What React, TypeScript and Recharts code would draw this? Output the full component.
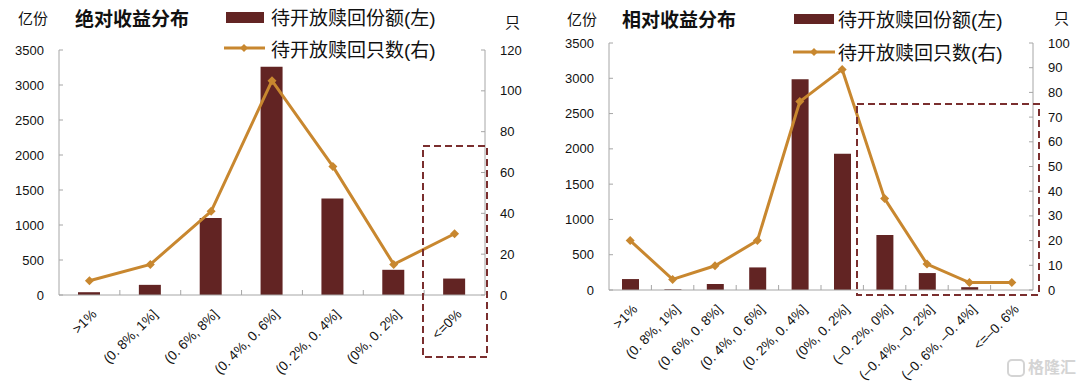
import React from "react";
import { ComposedChart, Bar, Line, XAxis, YAxis } from "recharts";

const BAR_COLOR = "#622423";
const LINE_COLOR = "#c8872f";
const AXIS_COLOR = "#a6a6a6";
const BOX_COLOR = "#7a2e2e";
const FONT = "'Liberation Sans', 'Noto Sans CJK SC', sans-serif";

// 绝对收益分布
const absCategories = [">1%", "(0. 8%, 1%]", "(0. 6%, 8%]", "(0. 4%, 0. 6%]", "(0. 2%, 0. 4%]", "(0%, 0. 2%]", "<=0%"];
const absAmounts = [40, 145, 1100, 3260, 1380, 360, 235];
const absCounts = [7, 15, 41, 105, 63, 15, 30];
const absCountTicks = [0, 20, 40, 60, 80, 100, 120];

// 相对收益分布
const relCategories = [">1%", "(0. 8%, 1%]", "(0. 6%, 0. 8%]", "(0. 4%, 0. 6%]", "(0. 2%, 0. 4%]", "(0%, 0. 2%]", "(–0. 2%, 0%]", "(–0. 4%, –0. 2%]", "(–0. 6%, –0. 4%]", "<=–0. 6%"];
const relAmounts = [155, 10, 85, 320, 2985, 1930, 780, 240, 40, 0];
const relCounts = [20, 4.3, 9.8, 20, 76.3, 89.3, 37, 10.5, 3, 3];
const relCountTicks = [0, 10, 20, 30, 40, 50, 60, 70, 80, 90, 100];

const amountTicks = [0, 500, 1000, 1500, 2000, 2500, 3000, 3500];

const Diamond = (props: any) => {
  const { cx, cy } = props;
  if (cx == null || cy == null) return null;
  const r = 4.5;
  return <polygon points={`${cx},${cy - r} ${cx + r},${cy} ${cx},${cy + r} ${cx - r},${cy}`} fill={LINE_COLOR} />;
};

const YTick = ({ x, y, payload, side }: any) => {
  const ax = side === "left" ? x + 15 : x - 15;
  const inner = side === "left" ? ax + 4 : ax - 4;
  return (
    <g>
      <line x1={ax} x2={inner} y1={y} y2={y} stroke={AXIS_COLOR} />
      <text x={x} y={y} dy="0.35em" textAnchor={side === "left" ? "end" : "start"} fontSize={13} fill="#111" fontFamily={FONT}>
        {payload.value}
      </text>
    </g>
  );
};

const XTick = ({ x, y, payload, index, band }: any) => (
  <g>
    {index > 0 && <line x1={x - band / 2} x2={x - band / 2} y1={y} y2={y - 5} stroke={AXIS_COLOR} />}
    <text transform={`translate(${x + 8},${y + 20}) rotate(-45)`} textAnchor="end" fontSize={13.5} fill="#111" fontFamily={FONT}>
      {payload.value}
    </text>
  </g>
);

type PanelProps = {
  categories: string[];
  amounts: number[];
  counts: number[];
  countTicks: number[];
  leftWidth: number;
  marginRight: number;
  marginTop: number;
  marginBottom: number;
  barSize: number;
  plotWidth: number;
};

function Panel(p: PanelProps) {
  const data = p.categories.map((name, i) => ({ name, amount: p.amounts[i], count: p.counts[i] }));
  const band = p.plotWidth / p.categories.length;
  const countMax = p.countTicks[p.countTicks.length - 1];
  return (
    <ComposedChart
      width={540}
      height={382}
      data={data}
      margin={{ top: p.marginTop, right: p.marginRight, bottom: p.marginBottom, left: 0 }}
    >
      <XAxis
        dataKey="name"
        interval={0}
        height={80}
        tickSize={0}
        tickMargin={0}
        tickLine={false}
        axisLine={{ stroke: AXIS_COLOR }}
        tick={(t: any) => <XTick {...t} band={band} />}
      />
      <YAxis
        yAxisId="left"
        width={p.leftWidth}
        domain={[0, 3500]}
        ticks={amountTicks}
        tickSize={0}
        tickMargin={15}
        tickLine={false}
        axisLine={{ stroke: AXIS_COLOR }}
        tick={(t: any) => <YTick {...t} side="left" />}
      />
      <YAxis
        yAxisId="right"
        orientation="right"
        width={40}
        domain={[0, countMax]}
        ticks={p.countTicks}
        tickSize={0}
        tickMargin={15}
        tickLine={false}
        axisLine={{ stroke: AXIS_COLOR }}
        tick={(t: any) => <YTick {...t} side="right" />}
      />
      <Bar yAxisId="left" dataKey="amount" fill={BAR_COLOR} barSize={p.barSize} isAnimationActive={false} />
      <Line
        yAxisId="right"
        dataKey="count"
        stroke={LINE_COLOR}
        strokeWidth={3}
        dot={<Diamond />}
        activeDot={false}
        isAnimationActive={false}
      />
    </ComposedChart>
  );
}

const txt = (left: number, cy: number, size: number, content: string, bold = false): React.ReactElement => (
  <div
    style={{
      position: "absolute",
      left,
      top: cy - size / 2,
      fontSize: size,
      lineHeight: `${size}px`,
      fontWeight: bold ? 700 : 400,
      whiteSpace: "nowrap",
      color: "#111",
    }}
  >
    {content}
  </div>
);

export default function App() {
  return (
    <div
      style={{
        position: "absolute",
        left: 0,
        top: 0,
        width: 1080,
        height: 382,
        background: "#fff",
        fontFamily: FONT,
        overflow: "hidden",
      }}
    >
      <div style={{ position: "absolute", left: 0, top: 0 }}>
        <Panel
          categories={absCategories}
          amounts={absAmounts}
          counts={absCounts}
          countTicks={absCountTicks}
          leftWidth={59}
          marginRight={15}
          marginTop={50}
          marginBottom={7}
          barSize={22}
          plotWidth={426}
        />
      </div>
      <div style={{ position: "absolute", left: 540, top: 0 }}>
        <Panel
          categories={relCategories}
          amounts={relAmounts}
          counts={relCounts}
          countTicks={relCountTicks}
          leftWidth={69}
          marginRight={7}
          marginTop={43}
          marginBottom={12}
          barSize={17}
          plotWidth={424}
        />
      </div>

      <svg width={1080} height={382} style={{ position: "absolute", left: 0, top: 0, pointerEvents: "none" }}>
        <rect x={423} y={146} width={64} height={211} fill="none" stroke={BOX_COLOR} strokeWidth={2} strokeDasharray="7 4" />
        <rect x={857} y={104} width={182} height={191} fill="none" stroke={BOX_COLOR} strokeWidth={2} strokeDasharray="7 4" />
        {/* legend swatches */}
        <rect x={226} y={12} width={38} height={11} fill={BAR_COLOR} />
        <line x1={224} x2={265} y1={48} y2={48} stroke={LINE_COLOR} strokeWidth={3} />
        <polygon points="244,44 248,48 244,52 240,48" fill={LINE_COLOR} />
        <rect x={794} y={14} width={40} height={10} fill={BAR_COLOR} />
        <line x1={793} x2={835} y1={52} y2={52} stroke={LINE_COLOR} strokeWidth={3} />
        <polygon points="814,48 818,52 814,56 810,52" fill={LINE_COLOR} />
        <rect x={1008} y={360} width={16} height={16} rx={4} fill="none" stroke="#d4d4d4" strokeWidth={2} />
      </svg>

      {txt(18, 18, 15, "亿份")}
      {txt(75, 19, 19, "绝对收益分布", true)}
      {txt(271, 18, 19, "待开放赎回份额(左)")}
      {txt(271, 50, 19, "待开放赎回只数(右)")}
      {txt(505, 22, 15, "只")}

      {txt(567, 19, 15, "亿份")}
      {txt(622, 20, 19, "相对收益分布", true)}
      {txt(838, 20, 19, "待开放赎回份额(左)")}
      {txt(838, 53, 19, "待开放赎回只数(右)")}
      {txt(1054, 18, 15, "只")}

      <div style={{ position: "absolute", left: 1028, top: 358, fontSize: 16, lineHeight: "20px", color: "#d4d4d4", fontWeight: 700, whiteSpace: "nowrap" }}>
        格隆汇
      </div>
    </div>
  );
}
